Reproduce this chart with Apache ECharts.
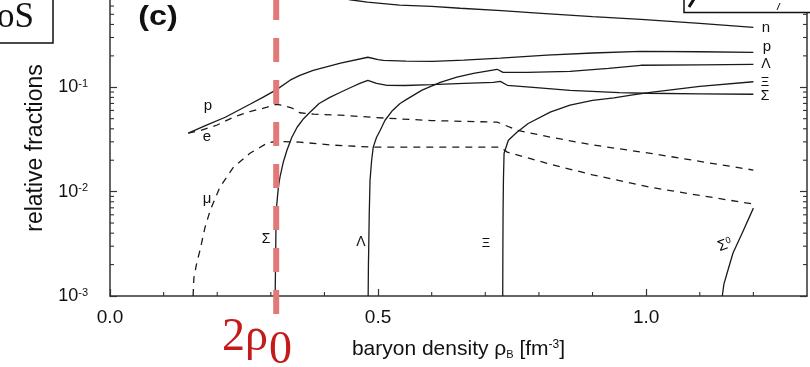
<!DOCTYPE html>
<html><head><meta charset="utf-8">
<script src="https://cdn.jsdelivr.net/npm/echarts@6/dist/echarts.min.js"></script>
<style>html,body{margin:0;padding:0;background:#fff}#c{width:810px;height:367px}</style>
</head><body><div id="c"></div>
<script>
// ---- data (baryon density fm^-3, relative fraction) ----
const xMajorTicks = [0.0, 0.5, 1.0];
const xMinorTicks = [0.1,0.2,0.3,0.4,0.6,0.7,0.8,0.9,1.1,1.2];
const yDecades = [0.001, 0.01, 0.1];
const yMinorMult = [2,3,4,5,6,7,8,9];
const yTopVisible = 0.686;   // the figure is cropped just below 10^0
const twoRho0 = 0.31;

const nData = [[0.147,0.96],[0.2,0.945],[0.25,0.925],[0.31,0.895],[0.36,0.83],[0.41,0.75],[0.448,0.69],[0.48,0.655],[0.54,0.612],[0.6,0.595],[0.653,0.572],[0.73,0.542],[0.805,0.51],[0.9,0.475],[0.99,0.447],[1.1,0.41],[1.2,0.375]];
const pData = [[0.146,0.0363],[0.18,0.0433],[0.215,0.0516],[0.261,0.0687],[0.285,0.08],[0.31,0.0945],[0.336,0.117],[0.354,0.13],[0.379,0.1455],[0.43,0.17],[0.481,0.194],[0.5,0.184],[0.51,0.181],[0.552,0.178],[0.602,0.177],[0.66,0.182],[0.728,0.19],[0.815,0.203],[0.9,0.213],[0.99,0.221],[1.1,0.219],[1.2,0.216]];
const eData = [[0.146,0.0363],[0.167,0.0383],[0.2,0.0435],[0.23,0.0516],[0.261,0.0585],[0.293,0.0644],[0.31,0.0687],[0.32,0.0675],[0.34,0.063],[0.354,0.057],[0.38,0.0552],[0.43,0.054],[0.517,0.0505],[0.6,0.048],[0.722,0.0463],[0.73,0.0448],[0.759,0.0388],[0.821,0.0333],[0.9,0.028],[1.008,0.0233],[1.1,0.0195],[1.2,0.0161]];
const muData = [[0.155,0.001],[0.1565,0.0015],[0.162,0.0021],[0.168,0.00276],[0.177,0.0045],[0.187,0.00665],[0.205,0.011],[0.23,0.0171],[0.261,0.0233],[0.293,0.0291],[0.31,0.0304],[0.354,0.0298],[0.416,0.0279],[0.49,0.0267],[0.728,0.0267],[0.741,0.0239],[0.821,0.0183],[0.9,0.0145],[1.008,0.011],[1.1,0.0092],[1.2,0.0076]];
const sigmaMData = [[0.308,0.001],[0.3088,0.002],[0.3095,0.0045],[0.311,0.0075],[0.314,0.011],[0.317,0.0138],[0.323,0.019],[0.33,0.0249],[0.339,0.033],[0.349,0.0414],[0.361,0.05],[0.373,0.0577],[0.39,0.07],[0.41,0.08],[0.43,0.0896],[0.45,0.1],[0.466,0.109],[0.481,0.1167],[0.497,0.109],[0.517,0.1045],[0.55,0.104],[0.6,0.106],[0.66,0.109],[0.715,0.1116],[0.728,0.114],[0.741,0.1045],[0.789,0.1],[0.858,0.0936],[0.95,0.089],[1.0,0.0877],[1.1,0.0865],[1.2,0.0857]];
const lambdaData = [[0.4815,0.001],[0.482,0.002],[0.4825,0.00275],[0.4835,0.006],[0.485,0.0129],[0.488,0.02],[0.491,0.0267],[0.497,0.033],[0.504,0.0388],[0.513,0.0483],[0.527,0.06],[0.541,0.07],[0.554,0.077],[0.582,0.094],[0.616,0.1116],[0.647,0.125],[0.678,0.136],[0.722,0.1487],[0.733,0.139],[0.778,0.139],[0.858,0.142],[0.93,0.152],[0.99,0.1625],[1.1,0.164],[1.2,0.166]];
const xiData = [[0.7325,0.001],[0.7328,0.003],[0.7332,0.007],[0.7338,0.0129],[0.735,0.0233],[0.743,0.0311],[0.759,0.0371],[0.78,0.045],[0.821,0.0577],[0.858,0.0673],[0.9,0.075],[0.94,0.079],[0.975,0.0845],[1.008,0.0895],[1.1,0.102],[1.2,0.113]];
const sigma0Data = [[1.142,0.001],[1.145,0.0013],[1.151,0.00166],[1.162,0.00258],[1.179,0.004],[1.2,0.00695]];

const FONT = '"Liberation Sans", Arial, Helvetica, sans-serif';
const SERIF = '"Liberation Serif", "Times New Roman", serif';
const INK = '#1a1a1a';

const chart = echarts.init(document.getElementById('c'), null, {renderer:'canvas'});

function solid(name, data){
  return {name, type:'line', data, symbol:'none', animation:false, clip:true,
    lineStyle:{color:INK, width:1.3}, z:3};
}
function dashed(name, data){
  return {name, type:'line', data, symbol:'none', animation:false, clip:true,
    lineStyle:{color:INK, width:1.3, type:[7,6]}, z:3};
}

const yAxisCommon = {
  type:'log', logBase:10, min:0.001, max:yTopVisible,
  axisLine:{show:true, lineStyle:{color:'#333', width:1.5}},
  axisTick:{show:true, inside:true, length:7, customValues:yDecades, lineStyle:{color:'#333', width:1.2}},
  splitLine:{show:false}, minorTick:{show:false}
};

chart.setOption({
  animation:false,
  backgroundColor:'#fff',
  grid:{left:110, right:3, top:0, bottom:71, containLabel:false},
  xAxis:[{
    type:'value', min:0, max:1.3, interval:0.5,
    axisLine:{show:true, onZero:false, lineStyle:{color:'#333', width:1.5}},
    axisTick:{show:true, inside:true, length:7, customValues:xMajorTicks, lineStyle:{color:'#333', width:1.2}},
    splitLine:{show:false},
    axisLabel:{show:true, margin:12, fontFamily:FONT, fontSize:19, color:'#111',
      customValues:xMajorTicks, formatter:v => v.toFixed(1)},
    name:'{a|baryon density ρ}{s|B}{a| [fm}{p|-3}{a|]}',
    nameLocation:'middle', nameGap:43,
    nameTextStyle:{rich:{
      a:{fontFamily:FONT, fontSize:21, color:'#111'},
      s:{fontFamily:FONT, fontSize:11, color:'#111', verticalAlign:'bottom'},
      p:{fontFamily:FONT, fontSize:12, color:'#111', verticalAlign:'top'}
    }}
  }],
  yAxis:[
    Object.assign({}, yAxisCommon, {
      position:'left',
      axisLabel:{show:true, margin:22, customValues:yDecades, formatter:v => {
          const e = Math.log10(v);
          if (Math.abs(e - Math.round(e)) > 1e-6 || e >= 0) return '';
          return '{a|10}{b|' + Math.round(e) + '}';
        },
        rich:{
          a:{fontFamily:FONT, fontSize:18, color:'#111'},
          b:{fontFamily:FONT, fontSize:11, color:'#111', verticalAlign:'top'}
        }},
      name:'relative fractions', nameLocation:'middle', nameGap:62,
      nameTextStyle:{fontFamily:FONT, fontSize:23, color:'#111'}
    }),
    Object.assign({}, yAxisCommon, {position:'right', axisLabel:{show:false}})
  ],
  series:[
    solid('n', nData),
    solid('p', pData),
    solid('Λ', lambdaData),
    solid('Ξ', xiData),
    solid('Σ-', sigmaMData),
    solid('Σ0', sigma0Data),
    dashed('e', eData),
    dashed('μ', muData)
  ]
});

// ---- annotations computed through the axes ----
const px = v => chart.convertToPixel({xAxisIndex:0}, v);
const py = v => chart.convertToPixel({yAxisIndex:0}, v);
const xL = px(0), xR = px(1.3), yB = py(0.001);

const g = [];
xMinorTicks.forEach(v => {
  const x = px(v);
  g.push({type:'line', silent:true, z:10, shape:{x1:x, y1:yB, x2:x, y2:yB-4}, style:{stroke:'#333', lineWidth:1.1}});
});
yDecades.forEach(d => yMinorMult.forEach(m => {
  const v = d*m;
  if (v > yTopVisible) return;
  const y = py(v);
  g.push({type:'line', silent:true, z:10, shape:{x1:xL, y1:y, x2:xL+4, y2:y}, style:{stroke:'#333', lineWidth:1.1}});
  g.push({type:'line', silent:true, z:10, shape:{x1:xR, y1:y, x2:xR-4, y2:y}, style:{stroke:'#333', lineWidth:1.1}});
}));

// red dashed 2rho0 line
const xr = px(twoRho0);
g.push({type:'line', silent:true, z:50, shape:{x1:xr, y1:-4, x2:xr, y2:314},
  style:{stroke:'#e27878', lineWidth:6, lineDash:[24,18]}});
g.push({type:'text', silent:true, z:50, x:222, y:361,
  style:{text:'2ρ', font:'46px ' + SERIF, fill:'#c41a1a', textAlign:'left', textVerticalAlign:'bottom'}});
g.push({type:'text', silent:true, z:50, x:269, y:374,
  style:{text:'0', font:'46px ' + SERIF, fill:'#c41a1a', textAlign:'left', textVerticalAlign:'bottom'}});

// panel tag
g.push({type:'text', silent:true, z:20, x:158, y:18, scaleX:1.2,
  style:{text:'(c)', font:'bold 27px ' + FONT, fill:'#111', textAlign:'center', textVerticalAlign:'middle'}});

// curve labels
const lab = (t, x, y, size) => g.push({type:'text', silent:true, z:20, x, y,
  style:{text:t, font:(size||15) + 'px ' + FONT, fill:'#111', textAlign:'center', textVerticalAlign:'middle'}});
lab('n', 766, 28);
lab('p', 767, 47);
lab('Λ', 766, 64, 14);
lab('Ξ', 765, 82, 13);
lab('Σ', 765, 96, 14);
lab('n', 208, -6);
lab('p', 208, 106);
lab('e', 207, 137);
lab('μ', 207, 199);
lab('Σ', 266, 239, 14);
lab('Λ', 361, 242, 14);
lab('Ξ', 486, 243, 13);
g.push({type:'text', silent:true, z:20, x:725, y:245, rotation:0.35,
  style:{text:'{a|Σ}{b|0}', textAlign:'center', textVerticalAlign:'middle',
    rich:{a:{fontFamily:FONT, fontSize:15, color:'#111'}, b:{fontFamily:FONT, fontSize:9, color:'#111', verticalAlign:'top'}}}});

// cropped boxes from the source page
g.push({type:'rect', silent:true, z:30, shape:{x:-5, y:-5, width:58, height:48},
  style:{fill:'#fff', stroke:'#111', lineWidth:1.5}});
g.push({type:'text', silent:true, z:31, x:34, y:35,
  style:{text:'EoS', font:'35px ' + SERIF, fill:'#111', textAlign:'right', textVerticalAlign:'bottom'}});
g.push({type:'rect', silent:true, z:30, shape:{x:684, y:-5, width:130, height:17.5},
  style:{fill:'#fff', stroke:'#111', lineWidth:1.5}});
g.push({type:'line', silent:true, z:31, shape:{x1:694, y1:-1, x2:689, y2:7}, style:{stroke:'#111', lineWidth:3}});
g.push({type:'line', silent:true, z:31, shape:{x1:780, y1:3, x2:777, y2:10}, style:{stroke:'#111', lineWidth:1}});

chart.setOption({graphic:g});
</script></body></html>
